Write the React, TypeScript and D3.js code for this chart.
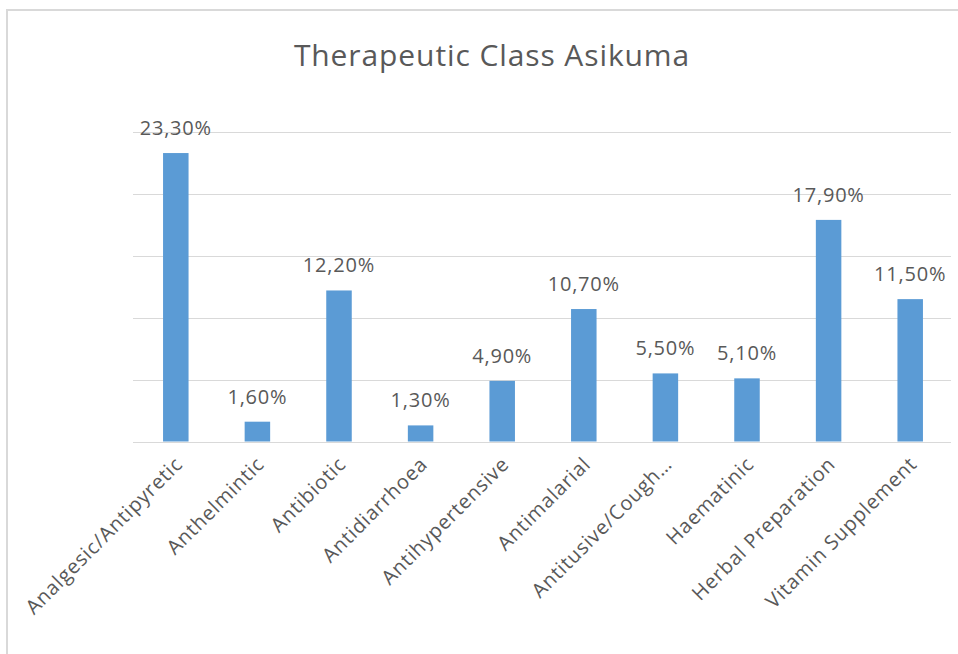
import * as d3 from "d3";
import { useEffect, useRef } from "react";

const width = 958;
const height = 654;

const categories = [
  "Analgesic/Antipyretic",
  "Anthelmintic",
  "Antibiotic",
  "Antidiarrhoea",
  "Antihypertensive",
  "Antimalarial",
  "Antitusive/Cough…",
  "Haematinic",
  "Herbal Preparation",
  "Vitamin Supplement",
];
const values = [23.3, 1.6, 12.2, 1.3, 4.9, 10.7, 5.5, 5.1, 17.9, 11.5];
const valueLabels = ["23,30%", "1,60%", "12,20%", "1,30%", "4,90%", "10,70%", "5,50%", "5,10%", "17,90%", "11,50%"];
const gridTicks = [0, 5, 10, 15, 20, 25];

const plot = { left: 135, right: 951, top: 132, bottom: 441.5, gridLeft: 133 };
const font = "'Open Sans', sans-serif";
const textColor = "#595959";

const App = () => {
  const svgRef = useRef(null);

  useEffect(() => {
    const svg = d3.select(svgRef.current);
    svg.selectAll("*").remove();

    const xScale = d3
      .scaleBand()
      .domain(categories)
      .range([plot.left, plot.right])
      .paddingInner(0.6875)
      .paddingOuter(0.34375);
    const yScale = d3.scaleLinear().domain([0, 25]).range([plot.bottom, plot.top]);

    // chart frame
    svg
      .append("rect")
      .attr("x", 7)
      .attr("y", 10)
      .attr("width", 980)
      .attr("height", 700)
      .attr("fill", "#fff")
      .attr("stroke", "#d9d9d9")
      .attr("stroke-width", 2);

    svg
      .append("text")
      .attr("x", 492)
      .attr("y", 66)
      .attr("text-anchor", "middle")
      .attr("font-family", font)
      .attr("font-size", 30)
      .attr("letter-spacing", 0.9)
      .attr("fill", textColor)
      .text("Therapeutic Class Asikuma");

    // gridlines
    svg
      .append("g")
      .selectAll("line")
      .data(gridTicks)
      .join("line")
      .attr("x1", plot.gridLeft)
      .attr("x2", plot.right)
      .attr("y1", (d) => Math.round(yScale(d)) + 0.5)
      .attr("y2", (d) => Math.round(yScale(d)) + 0.5)
      .attr("stroke", "#d9d9d9")
      .attr("stroke-width", 1.2);

    svg
      .append("g")
      .selectAll("rect")
      .data(values)
      .join("rect")
      .attr("x", (d, i) => xScale(categories[i]))
      .attr("y", (d) => yScale(d))
      .attr("width", xScale.bandwidth())
      .attr("height", (d) => yScale(0) - yScale(d))
      .attr("fill", "#5b9bd5");

    svg
      .append("g")
      .selectAll("text")
      .data(values)
      .join("text")
      .attr("x", (d, i) => xScale(categories[i]) + xScale.bandwidth() / 2)
      .attr("y", (d) => yScale(d) - 18)
      .attr("text-anchor", "middle")
      .attr("font-family", font)
      .attr("font-size", 20)
      .attr("letter-spacing", 0.8)
      .attr("fill", textColor)
      .text((d, i) => valueLabels[i]);

    // rotated category labels
    svg
      .append("g")
      .selectAll("text")
      .data(categories)
      .join("text")
      .attr("transform", (d) => {
        const cx = xScale(d) + xScale.bandwidth() / 2 + 8;
        return `translate(${cx}, ${plot.bottom + 24}) rotate(-45)`;
      })
      .attr("text-anchor", "end")
      .attr("font-family", font)
      .attr("font-size", 20)
      .attr("letter-spacing", 0.8)
      .attr("fill", textColor)
      .text((d) => d);
  }, []);

  return (
    <svg
      ref={svgRef}
      width={width}
      height={height}
      style={{ position: "absolute", left: 0, top: 0, background: "#fff" }}
    />
  );
};

export default App;
